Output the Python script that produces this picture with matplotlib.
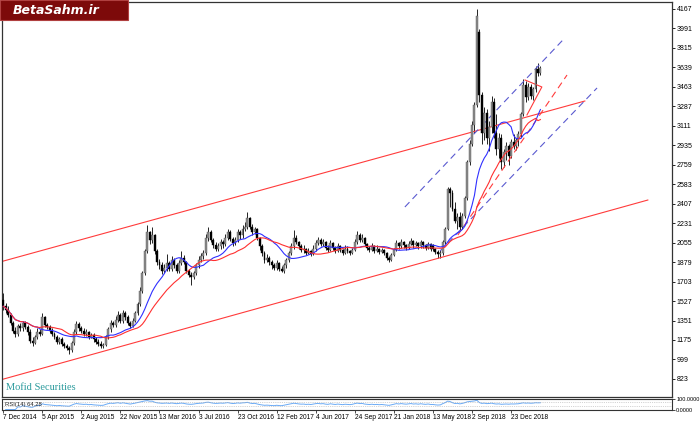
import numpy as np
import pandas as pd
import matplotlib
matplotlib.use('Agg')
import matplotlib.pyplot as plt
from matplotlib.patches import Rectangle

# weekly OHLC (bar 0 = week of 7 Dec 2014)
opens = [
    1540, 1480, 1450, 1400, 1330, 1260, 1230, 1300, 1280, 1330,
    1290, 1250, 1170, 1150, 1200, 1250, 1230, 1380, 1310, 1290,
    1260, 1230, 1200, 1160, 1180, 1140, 1120, 1100, 1080, 1150,
    1250, 1320, 1280, 1260, 1230, 1250, 1200, 1220, 1180, 1160,
    1140, 1120, 1130, 1200, 1270, 1330, 1310, 1360, 1400, 1350,
    1420, 1380, 1330, 1300, 1350, 1420, 1500, 1620, 1780, 1980,
    2150, 2080, 2120, 1980, 1880, 1850, 1800, 1830, 1870, 1820,
    1900, 1850, 1800, 1870, 1920, 1880, 1800, 1760, 1740, 1780,
    1850, 1900, 1930, 1960, 2100, 2150, 2080, 2030, 2000, 2020,
    2060, 2040, 2100, 2150, 2090, 2050, 2080, 2150, 2120, 2180,
    2200, 2280, 2200, 2150, 2180, 2100, 2020, 1960, 1900, 1920,
    1880, 1850, 1830, 1870, 1820, 1800, 1850, 1900, 1960, 2020,
    2100, 2060, 2020, 1990, 2000, 1960, 1980, 1950, 2000, 2050,
    2080, 2040, 2060, 2010, 1990, 2050, 2010, 1980, 2020, 1990,
    1960, 2000, 1980, 1960, 1990, 2060, 2120, 2080, 2100, 2040,
    2010, 1990, 2020, 1980, 2000, 1970, 1990, 1960, 1920, 1900,
    1940, 1990, 2050, 2020, 2060, 2030, 2010, 2040, 2070, 2030,
    2050, 2020, 2060, 2030, 2010, 2040, 2030, 2000, 1970, 1950,
    1960, 2060, 2180, 2540, 2500, 2360, 2250, 2290, 2200, 2300,
    2460, 2780, 2950, 3120, 3300, 3960, 3390, 3050, 3230, 3000,
    3100, 3330, 3050, 2900, 3000, 2780, 2870, 2930, 2840, 2960,
    2930, 2980, 3040, 3220, 3480, 3370, 3460, 3380, 3440, 3620, 3590]
highs = [
    1600, 1510, 1480, 1420, 1350, 1290, 1320, 1330, 1350, 1350,
    1310, 1270, 1200, 1220, 1280, 1270, 1420, 1390, 1330, 1310,
    1280, 1250, 1220, 1200, 1200, 1160, 1140, 1120, 1170, 1270,
    1350, 1340, 1300, 1280, 1270, 1260, 1240, 1240, 1200, 1180,
    1170, 1150, 1220, 1290, 1360, 1350, 1390, 1440, 1420, 1450,
    1440, 1400, 1350, 1370, 1440, 1520, 1650, 1800, 2000, 2214,
    2160, 2200, 2130, 2000, 1910, 1880, 1860, 1950, 1890, 1930,
    1920, 1870, 1900, 1980, 1940, 1890, 1820, 1790, 1800, 1870,
    1930, 1960, 1990, 2130, 2200, 2170, 2100, 2060, 2050, 2090,
    2080, 2130, 2180, 2170, 2110, 2110, 2180, 2170, 2210, 2240,
    2332, 2290, 2220, 2200, 2190, 2110, 2040, 1980, 1950, 1930,
    1900, 1870, 1900, 1880, 1840, 1870, 1920, 1980, 2050, 2170,
    2120, 2070, 2040, 2030, 2010, 2010, 1990, 2030, 2080, 2110,
    2100, 2090, 2070, 2030, 2080, 2060, 2020, 2050, 2030, 2000,
    2030, 2020, 1990, 2010, 2090, 2160, 2140, 2130, 2110, 2050,
    2020, 2050, 2030, 2030, 2010, 2010, 2000, 1970, 1930, 1960,
    2010, 2080, 2060, 2090, 2070, 2040, 2070, 2100, 2080, 2070,
    2060, 2080, 2070, 2040, 2060, 2050, 2040, 2010, 1990, 1990,
    2080, 2200, 2560, 2560, 2530, 2420, 2320, 2330, 2320, 2480,
    2800, 2980, 3150, 3330, 4167, 3990, 3420, 3280, 3260, 3150,
    3380, 3360, 3220, 3050, 3040, 2900, 2960, 2950, 2990, 3040,
    3000, 3060, 3240, 3530, 3520, 3500, 3490, 3460, 3650, 3680, 3650]
lows = [
    1450, 1420, 1380, 1310, 1240, 1200, 1210, 1260, 1260, 1270,
    1220, 1150, 1120, 1140, 1180, 1210, 1220, 1290, 1270, 1240,
    1210, 1180, 1140, 1140, 1120, 1100, 1080, 1050, 1070, 1130,
    1230, 1260, 1240, 1210, 1210, 1180, 1190, 1160, 1140, 1120,
    1100, 1100, 1120, 1180, 1250, 1290, 1290, 1340, 1330, 1330,
    1360, 1310, 1280, 1290, 1340, 1400, 1480, 1600, 1760, 1960,
    2040, 2050, 1950, 1850, 1820, 1770, 1780, 1800, 1800, 1800,
    1830, 1780, 1780, 1850, 1860, 1780, 1740, 1672, 1730, 1760,
    1830, 1880, 1910, 1940, 2070, 2060, 2010, 1980, 1980, 2000,
    2010, 2020, 2080, 2070, 2020, 2030, 2060, 2090, 2100, 2160,
    2180, 2180, 2120, 2130, 2080, 1990, 1930, 1870, 1880, 1850,
    1820, 1808, 1810, 1800, 1790, 1780, 1830, 1880, 1940, 2000,
    2040, 2000, 1970, 1960, 1940, 1950, 1930, 1940, 1980, 2030,
    2020, 2020, 1990, 1970, 1980, 1990, 1960, 1970, 1970, 1940,
    1950, 1960, 1940, 1950, 1980, 2040, 2060, 2060, 2020, 1990,
    1970, 1980, 1960, 1970, 1950, 1960, 1940, 1900, 1880, 1890,
    1930, 1980, 2000, 2010, 2010, 1990, 2000, 2030, 2010, 2020,
    2000, 2010, 2010, 1990, 2000, 1980, 1980, 1950, 1920, 1916,
    1940, 2040, 2170, 2380, 2340, 2230, 2180, 2170, 2180, 2280,
    2440, 2760, 2930, 3050, 3280, 3330, 2950, 2980, 2950, 2880,
    3050, 3000, 2850, 2820, 2720, 2740, 2800, 2760, 2820, 2900,
    2890, 2930, 3010, 3200, 3330, 3340, 3350, 3340, 3420, 3560, 3570]
closes = [
    1480, 1450, 1400, 1330, 1260, 1230, 1300, 1280, 1330, 1290,
    1250, 1170, 1150, 1200, 1250, 1230, 1380, 1310, 1290, 1260,
    1230, 1200, 1160, 1180, 1140, 1120, 1100, 1080, 1150, 1250,
    1320, 1280, 1260, 1230, 1250, 1200, 1220, 1180, 1160, 1140,
    1120, 1130, 1200, 1270, 1330, 1310, 1360, 1400, 1350, 1420,
    1380, 1330, 1300, 1350, 1420, 1500, 1620, 1780, 1980, 2150,
    2080, 2120, 1980, 1880, 1850, 1800, 1830, 1870, 1820, 1900,
    1850, 1800, 1870, 1920, 1880, 1800, 1760, 1740, 1780, 1850,
    1900, 1930, 1960, 2100, 2150, 2080, 2030, 2000, 2020, 2060,
    2040, 2100, 2150, 2090, 2050, 2080, 2150, 2120, 2180, 2200,
    2280, 2200, 2150, 2180, 2100, 2020, 1960, 1900, 1920, 1880,
    1850, 1830, 1870, 1820, 1800, 1850, 1900, 1960, 2020, 2100,
    2060, 2020, 1990, 2000, 1960, 1980, 1950, 2000, 2050, 2080,
    2040, 2060, 2010, 1990, 2050, 2010, 1980, 2020, 1990, 1960,
    2000, 1980, 1960, 1990, 2060, 2120, 2080, 2100, 2040, 2010,
    1990, 2020, 1980, 2000, 1970, 1990, 1960, 1920, 1900, 1940,
    1990, 2050, 2020, 2060, 2030, 2010, 2040, 2070, 2030, 2050,
    2020, 2060, 2030, 2010, 2040, 2000, 2000, 1970, 1950, 1960,
    2060, 2180, 2540, 2500, 2360, 2250, 2290, 2200, 2300, 2460,
    2780, 2950, 3120, 3300, 4100, 3390, 3050, 3230, 3000, 3100,
    3330, 3050, 2900, 3000, 2780, 2870, 2930, 2840, 2960, 2930,
    2980, 3040, 3220, 3480, 3370, 3460, 3380, 3440, 3620, 3590, 3630]

date_bars = [0, 16, 32, 48, 64, 80, 96, 112, 128, 144, 160, 176, 192, 208]
date_labels = ['7 Dec 2014', '5 Apr 2015', '2 Aug 2015', '22 Nov 2015',
               '13 Mar 2016', '3 Jul 2016', '23 Oct 2016', '12 Feb 2017',
               '4 Jun 2017', '24 Sep 2017', '21 Jan 2018', '13 May 2018',
               '2 Sep 2018', '23 Dec 2018']
price_ticks = [823, 999, 1175, 1351, 1527, 1703, 1879, 2055, 2231, 2407,
               2583, 2759, 2935, 3111, 3287, 3463, 3639, 3815, 3991, 4167]

# drawn trend lines: (bar, bar), (price, price)
channel_upper = ([-1.3, 238.2], [1880, 3335])
channel_lower = ([-1.3, 264.0], [813, 2440])
blue_upper = ([164.5, 229.6], [2377, 3896])
blue_lower = ([178.9, 243.2], [1979, 3453])
red_dashed = ([186.2, 230.9], [2124, 3570])
red_handle = ([213.7, 220.6, 214.5], [3525, 3462, 3209])

x = np.arange(len(closes))
o = np.array(opens, float)
h = np.array(highs, float)
l = np.array(lows, float)
c = np.array(closes, float)
up = c >= o

s = pd.Series(c)
ma_fast = s.rolling(15, min_periods=1).mean()
ma_slow = s.rolling(25, min_periods=1).mean()
delta = s.diff().fillna(0)
gain = delta.clip(lower=0).ewm(alpha=1 / 14, adjust=False).mean()
loss = (-delta.clip(upper=0)).ewm(alpha=1 / 14, adjust=False).mean()
rsi = 100 - 100 / (1 + gain / loss.replace(0, np.nan))

fig = plt.figure(figsize=(7, 4.22), dpi=100)
ax = fig.add_axes([2 / 700, 25 / 422, 670 / 700, 395 / 422])

ax.vlines(x, l, h, color='black', lw=0.6, zorder=2)
ax.bar(x[up], (c - o)[up], bottom=o[up], width=0.8, color='#8c8c8c',
       edgecolor='#5a5a5a', linewidth=0.3, zorder=3)
ax.bar(x[~up], (c - o)[~up], bottom=o[~up], width=0.8, color='black',
       edgecolor='black', linewidth=0.3, zorder=3)

ax.plot(x, ma_fast, color='#3030ff', lw=0.8, zorder=4)
ax.plot(x, ma_slow, color='#ff3030', lw=0.8, zorder=4)

ax.plot(*channel_upper, color='#ff3b3b', lw=0.8)
ax.plot(*channel_lower, color='#ff3b3b', lw=0.8)
ax.plot(*blue_upper, color='#5a5ad0', lw=0.8, ls=(0, (6, 4)))
ax.plot(*blue_lower, color='#5a5ad0', lw=0.8, ls=(0, (6, 4)))
ax.plot(*red_dashed, color='#ff3b3b', lw=0.8, ls=(0, (6, 4)))
ax.plot(*red_handle, color='#ff3b3b', lw=0.8)

ax.set_xlim(-0.5, 273.9)
ax.set_ylim(659.5, 4230)
ax.set_xticks([])
ax.yaxis.tick_right()
ax.set_yticks(price_ticks)
ax.tick_params(axis='y', labelsize=5, length=2.5, width=0.6, pad=1)
for lab in ax.get_yticklabels():
    lab.set_family('Liberation Sans')
for sp in ax.spines.values():
    sp.set_linewidth(0.9)
    sp.set_color('#333333')

ax.text(0.006, 0.012, 'Mofid Securities', transform=ax.transAxes,
        color='#2a9a9c', fontsize=7.5, family='Liberation Serif', va='bottom')

# RSI panel
axr = fig.add_axes([2 / 700, 12.5 / 422, 670 / 700, 10.5 / 422])
axr.plot(x, rsi, color='#6aaaf5', lw=0.7)
axr.axhline(70, color='#aaaaaa', lw=0.5, ls=':')
axr.axhline(30, color='#aaaaaa', lw=0.5, ls=':')
axr.set_xlim(-0.5, 273.9)
axr.set_ylim(0, 100)
axr.yaxis.tick_right()
axr.set_yticks([0, 100])
axr.set_yticklabels(['0.0000', '100.0000'], family='Liberation Sans')
axr.tick_params(axis='y', labelsize=4, length=2, width=0.5, pad=1)
axr.set_xticks(date_bars)
axr.set_xticklabels(date_labels, ha='left', family='Liberation Sans')
axr.tick_params(axis='x', labelsize=4.8, length=2, width=0.5, pad=1)
for sp in axr.spines.values():
    sp.set_linewidth(0.8)
    sp.set_color('#333333')
axr.text(0.004, 0.5, 'RSI(14) 64.28', transform=axr.transAxes,
         fontsize=4.2, va='center', color='#222222', family='Liberation Sans')

# logo box
fig.patches.append(Rectangle((0, 1 - 20 / 422), 128 / 700, 20 / 422,
                             transform=fig.transFigure, facecolor='#7d0a0a',
                             edgecolor='#b04040', lw=0.8, zorder=10))
fig.text(13 / 700, 1 - 10 / 422, 'BetaSahm.ir', color='white', fontsize=9,
         fontweight='bold', fontstyle='italic', va='center', zorder=11)

fig.savefig('out.png', dpi=100)
